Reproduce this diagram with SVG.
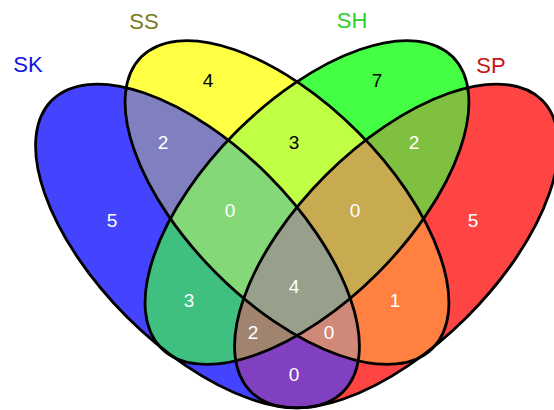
<svg xmlns="http://www.w3.org/2000/svg" xmlns:xlink="http://www.w3.org/1999/xlink" width="554" height="410" viewBox="0 0 554 410">
<style>
.o{fill:none;stroke:#000;stroke-width:2.8}
.n{font-family:"Liberation Sans",Arial,sans-serif;font-size:19px;text-anchor:middle;fill:#fff}
.b{fill:#000}
.l{font-family:"Liberation Sans",Arial,sans-serif;font-size:22px;text-anchor:middle}
</style>
<defs>
<ellipse id="eK" cx="197.5" cy="246" rx="206" ry="100" transform="rotate(45 197.5 246)"/>
<ellipse id="eS" cx="287" cy="202.5" rx="206" ry="100" transform="rotate(45 287 202.5)"/>
<ellipse id="eH" cx="307" cy="202.5" rx="206" ry="100" transform="rotate(-45 307 202.5)"/>
<ellipse id="eP" cx="396.5" cy="246" rx="206" ry="100" transform="rotate(-45 396.5 246)"/>
<clipPath id="cK"><use href="#eK"/></clipPath>
<clipPath id="cS"><use href="#eS"/></clipPath>
<clipPath id="cH"><use href="#eH"/></clipPath>
<clipPath id="cP"><use href="#eP"/></clipPath>
</defs>
<rect width="554" height="410" fill="#fff"/>
<g id="regions">
<use href="#eK" fill="#4444ff"/>
<use href="#eS" fill="#ffff44"/>
<use href="#eH" fill="#44ff44"/>
<use href="#eP" fill="#ff4444"/>
<g clip-path="url(#cK)"><use href="#eS" fill="#8080c0"/></g>
<g clip-path="url(#cK)"><use href="#eH" fill="#40c080"/></g>
<g clip-path="url(#cK)"><use href="#eP" fill="#8040c0"/></g>
<g clip-path="url(#cS)"><use href="#eH" fill="#c0ff44"/></g>
<g clip-path="url(#cS)"><use href="#eP" fill="#ff8040"/></g>
<g clip-path="url(#cH)"><use href="#eP" fill="#80c040"/></g>
<g clip-path="url(#cK)"><g clip-path="url(#cS)"><use href="#eH" fill="#84d878"/></g></g>
<g clip-path="url(#cK)"><g clip-path="url(#cS)"><use href="#eP" fill="#d08878"/></g></g>
<g clip-path="url(#cK)"><g clip-path="url(#cH)"><use href="#eP" fill="#a08470"/></g></g>
<g clip-path="url(#cS)"><g clip-path="url(#cH)"><use href="#eP" fill="#c8aa50"/></g></g>
<g clip-path="url(#cK)"><g clip-path="url(#cS)"><g clip-path="url(#cH)"><use href="#eP" fill="#98a08c"/></g></g></g>
</g>
<g id="SK"><use href="#eK" class="o"/><text class="l" x="28" y="72" fill="#1414e0">SK</text></g>
<g id="SS"><use href="#eS" class="o"/><text class="l" x="144" y="29" fill="#7a7a1e">SS</text></g>
<g id="SH"><use href="#eH" class="o"/><text class="l" x="352" y="28" fill="#28d028">SH</text></g>
<g id="SP"><use href="#eP" class="o"/><text class="l" x="491" y="73" fill="#cc1414">SP</text></g>
<g id="connectors"></g>
<g id="counts">
<text class="n" x="112" y="227">5</text>
<text class="n b" x="208" y="87">4</text>
<text class="n b" x="377" y="87">7</text>
<text class="n" x="473" y="227">5</text>
<text class="n" x="163" y="149">2</text>
<text class="n b" x="294" y="149">3</text>
<text class="n" x="414" y="149">2</text>
<text class="n" x="230" y="217">0</text>
<text class="n" x="355" y="217">0</text>
<text class="n" x="189" y="307">3</text>
<text class="n" x="395" y="307">1</text>
<text class="n" x="294" y="293">4</text>
<text class="n" x="253" y="339">2</text>
<text class="n" x="329" y="339">0</text>
<text class="n" x="294" y="381">0</text>
</g>
</svg>
